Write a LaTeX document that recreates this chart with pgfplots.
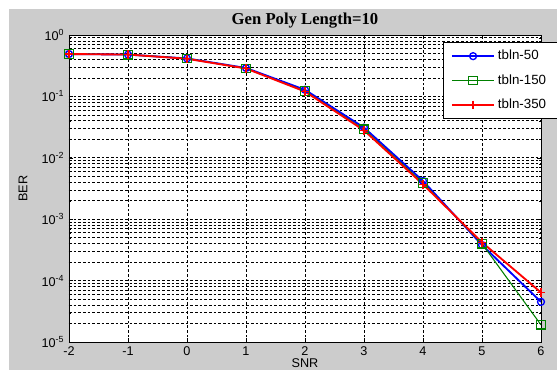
\documentclass[border=0pt]{standalone}
\usepackage{pgfplots}
\pgfplotsset{compat=1.18}
\usepackage{fontspec}
\setmainfont{Liberation Sans}
\newfontfamily\titlefont{Liberation Serif}
\definecolor{figgray}{RGB}{204,204,204}
\definecolor{mgreen}{RGB}{0,128,0}
\begin{document}
\begin{tikzpicture}
\fill[figgray] (-45pt,-21pt) rectangle (366pt,249.75pt);
\path[use as bounding box] (-51.75pt,-21pt) rectangle (366pt,256.5pt);
\begin{axis}[
  scale only axis, width=354pt, height=230.25pt,
  at={(0pt,0pt)}, anchor=south west,
  axis background/.style={fill=white},
  ymode=log, log basis y=10,
  xmin=-2, xmax=6, ymin=1e-5, ymax=1,
  xtick={-2,-1,0,1,2,3,4,5,6},
  ytick={1e-5,1e-4,1e-3,1e-2,1e-1,1},
  minor ytick={2e-5,3e-5,4e-5,5e-5,6e-5,7e-5,8e-5,9e-5,
    2e-4,3e-4,4e-4,5e-4,6e-4,7e-4,8e-4,9e-4,
    2e-3,3e-3,4e-3,5e-3,6e-3,7e-3,8e-3,9e-3,
    2e-2,3e-2,4e-2,5e-2,6e-2,7e-2,8e-2,9e-2,
    2e-1,3e-1,4e-1,5e-1,6e-1,7e-1,8e-1,9e-1},
  xticklabel style={font=\fontsize{9.5}{11}\selectfont},
  yticklabel style={font=\fontsize{9.5}{11}\selectfont},
  /pgf/number format/assume math mode=true,
  yticklabel={10\textsuperscript{\pgfmathparse{int(round(\tick))}\pgfmathresult}},
  xmajorgrids, ymajorgrids, yminorgrids,
  major grid style={black, dash pattern=on 2pt off 1.5pt, line width=0.5pt},
  minor grid style={black, dash pattern=on 2pt off 1.5pt, line width=0.5pt},
  tick align=inside, major tick length=3pt, minor tick length=1.5pt,
  axis line style={black, line width=0.6pt},
  tick style={black},
  title={Gen Poly Length=10},
  title style={at={(axis description cs:0.5,1.02)}, anchor=center, font=\titlefont\bfseries\fontsize{12.5}{14}\selectfont},
  xlabel={SNR}, ylabel={BER},
  xlabel style={at={(axis description cs:0.5,-0.068)}, anchor=center, font=\fontsize{9.5}{11}\selectfont},
  ylabel style={at={(axis description cs:-0.0975,0.5)}, anchor=center, rotate=0, font=\fontsize{9.5}{11}\selectfont},
  legend style={at={(axis description cs:1.034,0.977)}, anchor=north east, draw=black, fill=white,
    font=\fontsize{10}{12}\selectfont, row sep=5.5pt, inner xsep=6pt, inner ysep=4pt},
  legend cell align=left,
  legend image code/.code={\draw[mark repeat=2,mark phase=2] plot coordinates {(0cm,0cm) (0.56cm,0cm) (1.12cm,0cm)};},
]
\addplot[blue, line width=1.4pt, mark=o, mark size=2.6pt, mark options={line width=1pt}] coordinates {
(-2,0.49) (-1,0.48) (0,0.415) (1,0.29) (2,0.128) (3,0.031) (4,0.0042) (5,0.00038) (6,0.000045)};
\addlegendentry{tbln-50}
\addplot[mgreen, line width=0.8pt, mark=square, mark size=3.2pt, mark options={line width=1pt}] coordinates {
(-2,0.49) (-1,0.48) (0,0.415) (1,0.285) (2,0.122) (3,0.029) (4,0.0039) (5,0.0004) (6,0.000019)};
\addlegendentry{tbln-150}
\addplot[red, line width=1.4pt, mark=+, mark size=3.2pt, mark options={line width=1pt}] coordinates {
(-2,0.49) (-1,0.48) (0,0.41) (1,0.285) (2,0.12) (3,0.028) (4,0.0037) (5,0.00042) (6,0.000064)};
\addlegendentry{tbln-350}
\end{axis}
\end{tikzpicture}
\end{document}
